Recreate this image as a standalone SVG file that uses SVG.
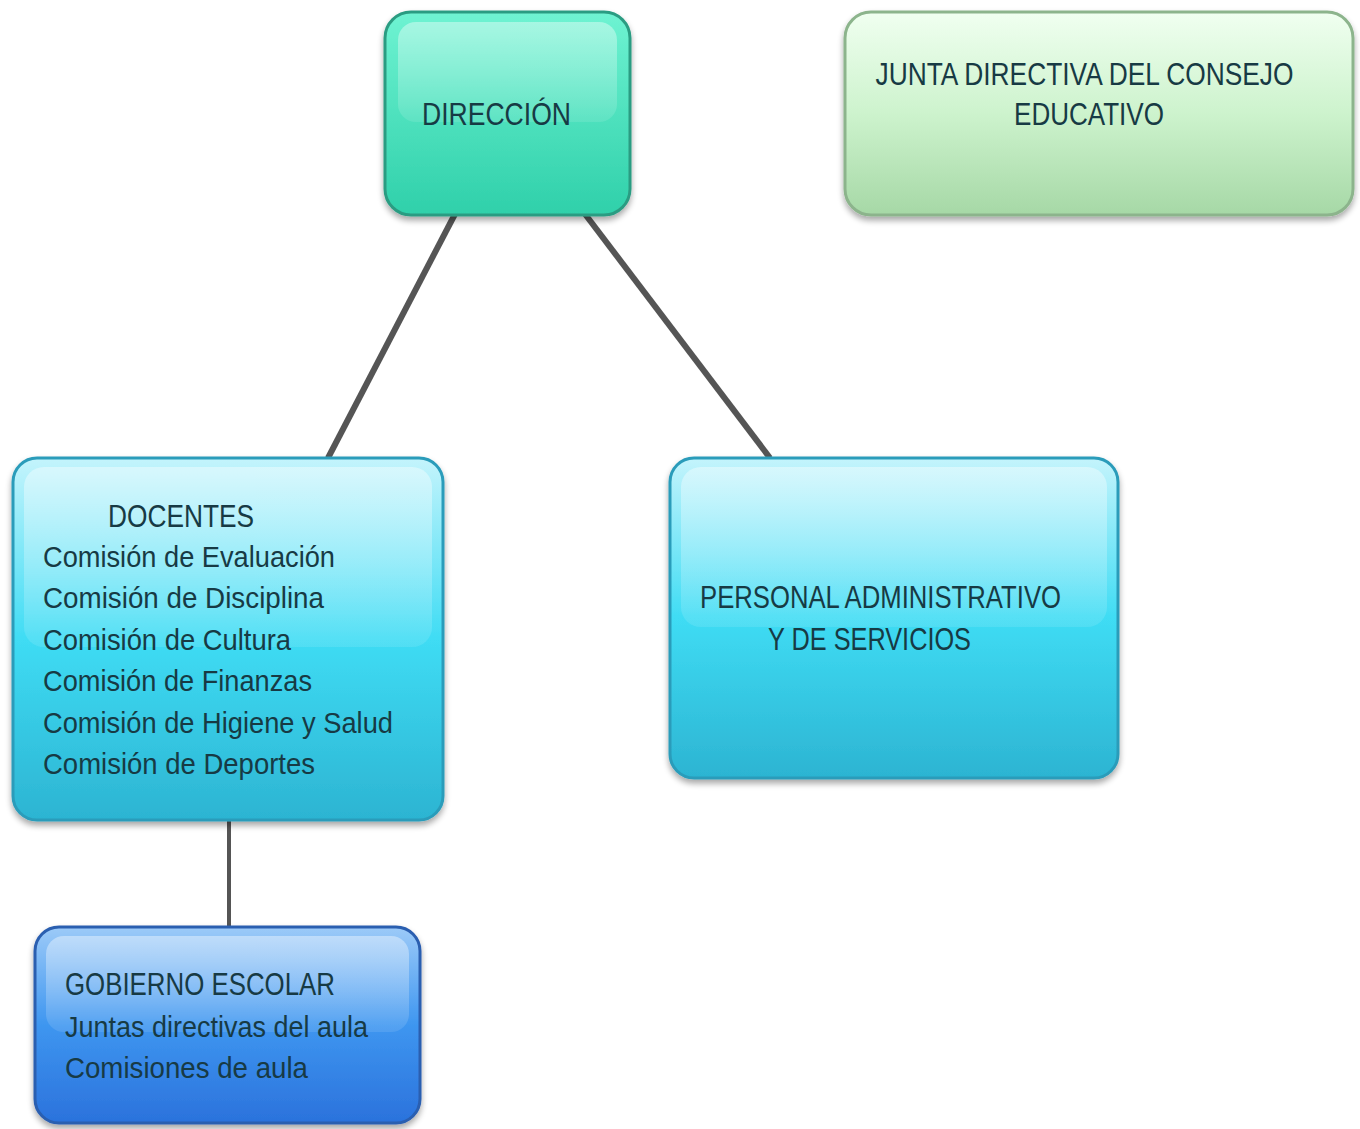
<svg xmlns="http://www.w3.org/2000/svg" width="1360" height="1129" viewBox="0 0 1360 1129">
<defs>
<linearGradient id="gTeal" x1="0" y1="0" x2="0" y2="1"><stop offset="0" stop-color="#6ff3d2"/><stop offset="1" stop-color="#2fd0aa"/></linearGradient>
<linearGradient id="gGreen" x1="0" y1="0" x2="0" y2="1"><stop offset="0" stop-color="#f0fff0"/><stop offset="0.5" stop-color="#cdf3cd"/><stop offset="1" stop-color="#a6d8a6"/></linearGradient>
<linearGradient id="gCyan" x1="0" y1="0" x2="0" y2="1"><stop offset="0" stop-color="#c4f4fc"/><stop offset="0.5" stop-color="#3fdcf4"/><stop offset="1" stop-color="#2cb4d2"/></linearGradient>
<linearGradient id="gBlue" x1="0" y1="0" x2="0" y2="1"><stop offset="0" stop-color="#9ccaf8"/><stop offset="0.5" stop-color="#3e96f0"/><stop offset="1" stop-color="#2b72dc"/></linearGradient>
<linearGradient id="gHi" x1="0" y1="0" x2="0" y2="1"><stop offset="0" stop-color="#fff" stop-opacity="0.4"/><stop offset="1" stop-color="#fff" stop-opacity="0.1"/></linearGradient>
<filter id="sh" x="-5%" y="-5%" width="110%" height="115%"><feGaussianBlur in="SourceAlpha" stdDeviation="3"/><feOffset dx="0" dy="4"/><feComponentTransfer><feFuncA type="linear" slope="0.35"/></feComponentTransfer><feMerge><feMergeNode/><feMergeNode in="SourceGraphic"/></feMerge></filter>
</defs>
<style>
text{font-family:"Liberation Sans Narrow","Liberation Sans",Arial,sans-serif;fill:#173a44;}
.caps{font-size:31px;}
.low{font-size:30px;}
.box{stroke-width:3;filter:url(#sh);}
.conn{stroke:#555;fill:none;stroke-linecap:butt;}
</style>
<rect width="1360" height="1129" fill="#ffffff"/>
<g id="connectors">
<line class="conn" x1="455" y1="214" x2="328" y2="458" stroke-width="6"/>
<line class="conn" x1="585" y1="214" x2="770" y2="458" stroke-width="6"/>
<line class="conn" x1="229" y1="820" x2="229" y2="927" stroke-width="4"/>
</g>
<g id="direccion">
<rect class="box" x="385" y="12" width="245" height="203" rx="26" fill="url(#gTeal)" stroke="#2c9c82"/>
<rect x="398" y="22" width="219" height="100" rx="18" fill="url(#gHi)"/>
<text class="caps" x="422" y="125" textLength="149" lengthAdjust="spacingAndGlyphs">DIRECCIÓN</text>
</g>
<g id="junta">
<rect class="box" x="845" y="12" width="508" height="203" rx="26" fill="url(#gGreen)" stroke="#8cb48c"/>
<text class="caps" font-size="28" text-anchor="middle" transform="translate(1084.5,85) scale(0.85,1)">JUNTA DIRECTIVA DEL CONSEJO</text>
<text class="caps" font-size="28" text-anchor="middle" transform="translate(1089,125) scale(0.84,1)">EDUCATIVO</text>
</g>
<g id="docentes">
<rect class="box" x="13" y="458" width="430" height="362" rx="24" fill="url(#gCyan)" stroke="#2b9cba"/>
<rect x="24" y="467" width="408" height="180" rx="20" fill="url(#gHi)"/>
<text class="caps" x="108" y="527" textLength="146" lengthAdjust="spacingAndGlyphs">DOCENTES</text>
<text class="low" x="43" y="567" textLength="292" lengthAdjust="spacingAndGlyphs">Comisión de Evaluación</text>
<text class="low" x="43" y="608" textLength="281" lengthAdjust="spacingAndGlyphs">Comisión de Disciplina</text>
<text class="low" x="43" y="650" textLength="248" lengthAdjust="spacingAndGlyphs">Comisión de Cultura</text>
<text class="low" x="43" y="691" textLength="269" lengthAdjust="spacingAndGlyphs">Comisión de Finanzas</text>
<text class="low" x="43" y="733" textLength="350" lengthAdjust="spacingAndGlyphs">Comisión de Higiene y Salud</text>
<text class="low" x="43" y="774" textLength="272" lengthAdjust="spacingAndGlyphs">Comisión de Deportes</text>
</g>
<g id="personal">
<rect class="box" x="670" y="458" width="448" height="320" rx="24" fill="url(#gCyan)" stroke="#2b9cba"/>
<rect x="681" y="467" width="426" height="160" rx="20" fill="url(#gHi)"/>
<text class="caps" x="700" y="608" textLength="361" lengthAdjust="spacingAndGlyphs">PERSONAL ADMINISTRATIVO</text>
<text class="caps" x="768" y="650" textLength="203" lengthAdjust="spacingAndGlyphs">Y DE SERVICIOS</text>
</g>
<g id="gobierno">
<rect class="box" x="35" y="927" width="385" height="196" rx="24" fill="url(#gBlue)" stroke="#2c5eb0"/>
<rect x="46" y="936" width="363" height="96" rx="18" fill="url(#gHi)"/>
<text class="caps" x="65" y="995" textLength="270" lengthAdjust="spacingAndGlyphs">GOBIERNO ESCOLAR</text>
<text class="low" x="65" y="1037" textLength="303" lengthAdjust="spacingAndGlyphs">Juntas directivas del aula</text>
<text class="low" x="65" y="1078" textLength="243" lengthAdjust="spacingAndGlyphs">Comisiones de aula</text>
</g>
</svg>
